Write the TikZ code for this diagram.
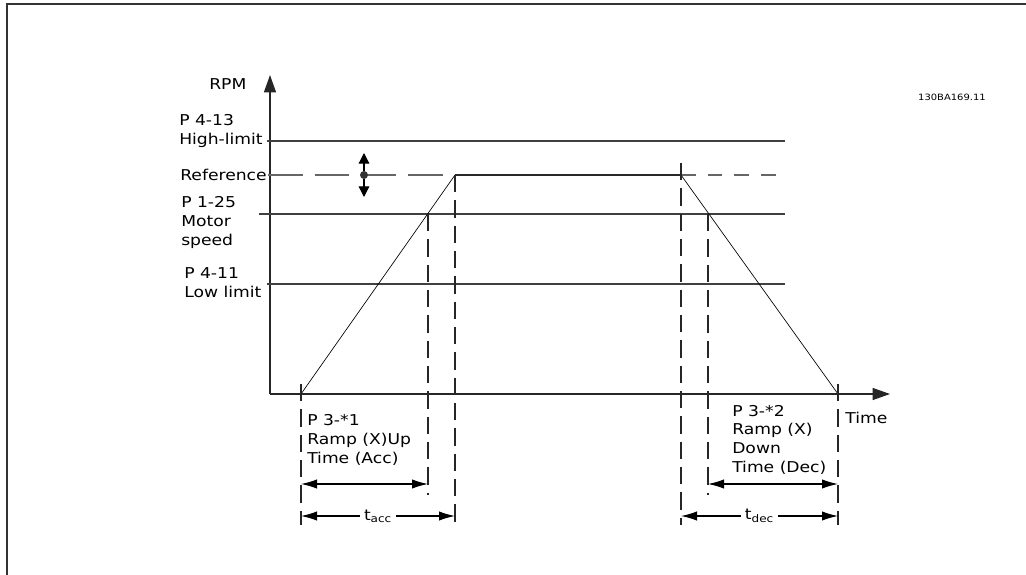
\documentclass[tikz,border=0pt]{standalone}
\usepackage{fontspec}
\setmainfont{DejaVu Sans}[FakeStretch=1.15]
\usetikzlibrary{arrows.meta}

\tikzset{
    lbl/.style={inner sep=0pt, align=left, font=\fontsize{11.2}{13.9}\selectfont},
    axis/.style={line width=0.9pt, black!85, -{Triangle[length=13pt, width=9pt]}},
    level/.style={line width=1.1pt, black!75},
    refline/.style={line width=1.1pt, black!60, dash pattern=on 26pt off 9pt},
    guide/.style={line width=0.8pt, black!85, dash pattern=on 13pt off 6pt},
    ramp/.style={line width=0.5pt, black},
    span/.style={line width=0.9pt, {Latex[length=12pt, width=7pt]}-{Latex[length=12pt, width=7pt]}}
}

\begin{document}
\begin{tikzpicture}[x=0.75pt, y=-0.75pt]
    \useasboundingbox (0,0) rectangle (1026,575);
    % Frame
    \draw[line width=1.2pt, black!80] (7,600) -- (7,4) -- (1050,4);

    % Axes
    \coordinate (O) at (270,394);
    \coordinate (ytop) at (270,75);
    \coordinate (xend) at (890,394);
    \draw[axis] (O) -- (ytop);
    \draw[axis] (O) -- (xend);
    \node[lbl, anchor=base west] (rpm) at (209,89) {RPM};
    \node[lbl, anchor=base west] (time) at (845,423) {Time};
    \node[inner sep=0pt, font=\fontsize{6.5}{8}\selectfont] (code) at (952,97) {130BA169.11};

    % Levels (base = last line)
    \node[lbl, anchor=base west] (phigh) at (179,144) {P 4-13\\High-limit};
    \node[lbl, anchor=base west] (pref) at (180,180) {Reference};
    \node[lbl, anchor=base west] (pmotor) at (181,245) {P 1-25\\Motor\\speed};
    \node[lbl, anchor=base west] (plow) at (184,297) {P 4-11\\Low limit};

    \draw[level] (267,141) -- (785,141);
    \draw[level] (259,214) -- (785,214);
    \draw[level] (267,284) -- (785,284);

    % Ramp profile
    \coordinate (start) at (301,394);
    \coordinate (top1) at (455,175);
    \coordinate (top2) at (681,175);
    \coordinate (stop) at (838,394);
    \coordinate (cross1) at (428,214);
    \coordinate (cross2) at (708,214);
    \draw[refline] (268,175) -- (top1);
    \draw[level] (top1) -- (top2);
    \draw[refline, dash pattern=on 11pt off 9pt] (top2) -- (785,175);
    \draw[ramp] (start) -- (top1) -- (top2) -- (stop);

    % Reference adjust
    \node[circle, fill=black!80, inner sep=0pt, minimum size=6pt] (dot) at (364,175) {};
    \draw[line width=0.9pt, -{Triangle[length=8pt, width=8pt]}] (dot) -- (364,153);
    \draw[line width=0.9pt, -{Triangle[length=8pt, width=8pt]}] (dot) -- (364,197);

    % Guides
    \draw[guide] (301,384) -- (301,525);
    \draw[guide] (cross1) -- (428,495);
    \draw[guide] (top1) -- (455,525);
    \draw[guide] (681,163) -- (681,525);
    \draw[guide] (cross2) -- (708,495);
    \draw[guide] (838,384) -- (838,525);

    % Ramp times
    \node[lbl, anchor=base west] (pacc) at (307,463) {P 3-*1\\Ramp (X)Up\\Time (Acc)};
    \node[lbl, anchor=base west] (pdec) at (732,472) {P 3-*2\\Ramp (X)\\Down\\Time (Dec)};
    \draw[span] (301,484) -- (428,484);
    \draw[span] (708,484) -- (838,484);
    \draw[span] (301,516) -- node[lbl, fill=white, inner xsep=3pt, inner ysep=2pt] (tacc) {t\textsubscript{acc}} (455,516);
    \draw[span] (681,516) -- node[lbl, fill=white, inner xsep=3pt, inner ysep=2pt] (tdec) {t\textsubscript{dec}} (838,516);
\end{tikzpicture}
\end{document}
